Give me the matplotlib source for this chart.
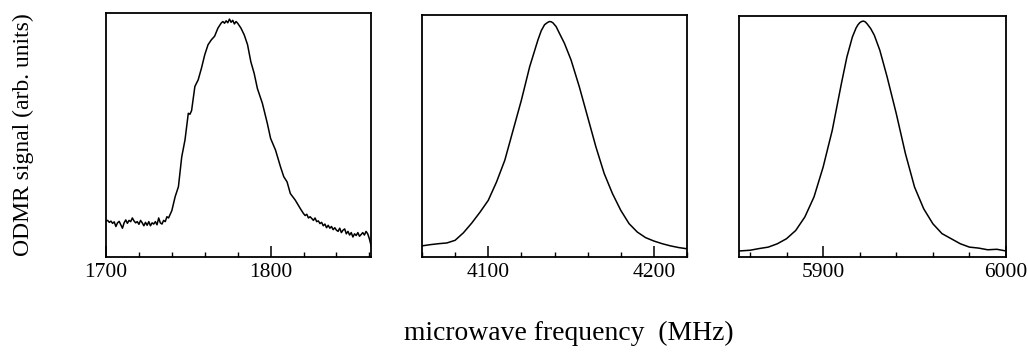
import numpy as np
import matplotlib
matplotlib.use("Agg")
import matplotlib.pyplot as plt
from matplotlib.ticker import MultipleLocator

plt.rcParams['font.family'] = ['Liberation Serif', 'DejaVu Serif']

# panel 1: measured spectrum around 1775 MHz (noisy)
freq1 = [1700, 1701, 1702, 1703, 1704, 1705, 1706, 1707, 1708, 1709, 1710, 1711, 1712,
         1713, 1714, 1715, 1716, 1717, 1718, 1719, 1720, 1721, 1722, 1723, 1724, 1725,
         1726, 1727, 1728, 1729, 1730, 1731, 1732, 1733, 1734, 1735, 1736, 1737, 1738,
         1739, 1740, 1742, 1744, 1746, 1748, 1750, 1751, 1752, 1754, 1756, 1758, 1760,
         1762, 1764, 1766, 1768, 1770, 1771, 1772, 1773, 1774, 1775, 1776, 1777, 1778,
         1779, 1780, 1782, 1784, 1786, 1788, 1790, 1792, 1795, 1798, 1800, 1803, 1806,
         1808, 1810, 1812, 1815, 1818, 1820, 1821, 1822, 1823, 1824, 1825, 1826, 1827,
         1828, 1829, 1830, 1831, 1832, 1833, 1834, 1835, 1836, 1837, 1838, 1839, 1840,
         1841, 1842, 1843, 1844, 1845, 1846, 1847, 1848, 1849, 1850, 1851, 1852, 1853,
         1854, 1855, 1856, 1857, 1858, 1859, 1860, 1861]
sig1 = [0.148, 0.150, 0.142, 0.147, 0.138, 0.144, 0.125, 0.140, 0.146, 0.132, 0.118,
        0.140, 0.152, 0.138, 0.150, 0.145, 0.160, 0.148, 0.140, 0.145, 0.134, 0.150,
        0.140, 0.128, 0.142, 0.130, 0.145, 0.128, 0.140, 0.135, 0.145, 0.132, 0.160,
        0.140, 0.135, 0.150, 0.145, 0.165, 0.160, 0.175, 0.19, 0.247, 0.288, 0.41,
        0.48, 0.589, 0.585, 0.60, 0.699, 0.726, 0.774, 0.829, 0.87, 0.89, 0.905, 0.938,
        0.959, 0.965, 0.958, 0.968, 0.96, 0.975, 0.962, 0.97, 0.955, 0.965, 0.958, 0.938,
        0.91, 0.87, 0.80, 0.753, 0.69, 0.63, 0.548, 0.486, 0.438, 0.37, 0.329, 0.308,
        0.26, 0.233, 0.199, 0.178, 0.17, 0.175, 0.16, 0.165, 0.158, 0.15, 0.16, 0.145,
        0.148, 0.137, 0.142, 0.128, 0.135, 0.12, 0.13, 0.118, 0.125, 0.112, 0.12, 0.11,
        0.105, 0.118, 0.10, 0.11, 0.115, 0.095, 0.105, 0.09, 0.10, 0.082, 0.095, 0.088,
        0.10, 0.085, 0.092, 0.10, 0.09, 0.105, 0.095, 0.075, 0.048]

# panel 2: resonance around 4138 MHz
freq2 = [4060, 4065, 4070, 4075, 4080, 4085, 4090, 4095, 4100, 4105, 4110, 4115, 4120,
         4125, 4130, 4132, 4134, 4136, 4137, 4138, 4139, 4141, 4143, 4146, 4150, 4155,
         4160, 4165, 4170, 4175, 4180, 4185, 4190, 4195, 4200, 4205, 4210, 4215, 4220]
sig2 = [0.046, 0.051, 0.055, 0.058, 0.069, 0.100, 0.140, 0.185, 0.234, 0.31, 0.40,
        0.524, 0.648, 0.786, 0.897, 0.935, 0.96, 0.97, 0.973, 0.972, 0.968, 0.952, 0.924,
        0.883, 0.814, 0.703, 0.579, 0.455, 0.345, 0.262, 0.193, 0.138, 0.103, 0.08,
        0.066, 0.055, 0.046, 0.039, 0.034]

# panel 3: resonance around 5922 MHz
freq3 = [5854, 5860, 5865, 5870, 5875, 5880, 5885, 5890, 5895, 5900, 5905, 5910, 5913,
         5916, 5918, 5919, 5920, 5921, 5922, 5923, 5924, 5926, 5928, 5931, 5935, 5940,
         5945, 5950, 5955, 5960, 5965, 5970, 5975, 5980, 5985, 5990, 5995, 6000]
sig3 = [0.025, 0.028, 0.035, 0.041, 0.055, 0.076, 0.11, 0.166, 0.249, 0.373, 0.526,
        0.72, 0.83, 0.913, 0.95, 0.963, 0.972, 0.977, 0.979, 0.976, 0.968, 0.948, 0.92,
        0.858, 0.747, 0.595, 0.429, 0.29, 0.2, 0.138, 0.097, 0.076, 0.055, 0.041,
        0.037, 0.03, 0.032, 0.025]

xlims = [(1700, 1861), (4060, 4220), (5854, 6000)]
major_ticks = [[1700, 1800], [4100, 4200], [5900, 6000]]

W, H = 1028, 352
fig = plt.figure(figsize=(W / 100, H / 100), dpi=100)

# axes boxes in pixels: left, top, right, bottom
boxes = [(106, 13, 371, 257), (422, 15, 687, 257), (739, 16, 1006, 257)]
data = [(freq1, sig1), (freq2, sig2), (freq3, sig3)]

for (l, t, r, b), (f, s), xl, mt in zip(boxes, data, xlims, major_ticks):
    ax = fig.add_axes([l / W, 1 - b / H, (r - l) / W, (b - t) / H])
    ax.plot(f, s, color='black', lw=1.1)
    ax.set_xlim(*xl)
    ax.set_ylim(0, 1)
    ax.set_xticks(mt)
    ax.xaxis.set_minor_locator(MultipleLocator(20))
    ax.tick_params(axis='x', which='major', direction='in', length=8, width=1.1,
                   labelsize=15.5, pad=4)
    ax.tick_params(axis='x', which='minor', direction='in', length=3.5, width=1.0)
    ax.set_yticks([])
    for sp in ax.spines.values():
        sp.set_linewidth(1.3)

fig.text(23 / W, 1 - 135 / H, 'ODMR signal (arb. units)', rotation=90,
         ha='center', va='center', fontsize=17)
fig.text(569 / W, 1 - 333 / H, 'microwave frequency  (MHz)',
         ha='center', va='center', fontsize=19.9)

fig.savefig('out.png', dpi=100)
